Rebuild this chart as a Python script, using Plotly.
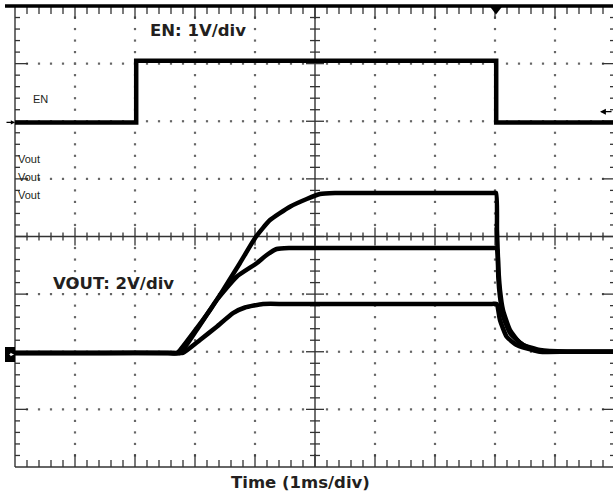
import plotly.graph_objects as go

# ---------------- data (time in ms = divisions, amplitude in divisions) -------------
en_t = [0, 2.02, 2.02, 8.02, 8.02, 9.97]
en_v = [1.98, 1.98, 3.05, 3.05, 1.98, 1.98]

vout_a_t = [0, 1.5, 2.55, 2.695, 2.967, 3.25, 3.467, 3.75, 4.017, 4.25, 4.583, 4.862, 5.083, 5.333,
            6.5, 7.95, 8.017, 8.033, 8.055, 8.083, 8.133, 8.25, 8.417, 8.633, 8.75, 9.2, 9.97]
vout_a_v = [-2.02, -2.02, -2.02, -2.027, -1.677, -1.278, -0.93, -0.46, -0.003, 0.286, 0.517, 0.651, 0.738, 0.755,
            0.755, 0.755, 0.755, 0.113, -0.524, -0.928, -1.275, -1.623, -1.848, -1.97, -2.0, -2.0, -2.0]

vout_b_t = [0, 1.5, 2.6, 2.75, 3.028, 3.362, 3.695, 4.028, 4.195, 4.362, 4.583,
            6.0, 7.95, 8.028, 8.045, 8.055, 8.083, 8.138, 8.25, 8.467, 8.75, 9.2, 9.97]
vout_b_v = [-2.02, -2.02, -2.02, -2.02, -1.622, -1.102, -0.698, -0.465, -0.321, -0.217, -0.2,
            -0.2, -0.2, -0.2, -0.32, -0.7, -1.045, -1.39, -1.675, -1.88, -1.97, -2.0, -2.0]

vout_c_t = [0, 1.5, 2.65, 2.8, 3.083, 3.362, 3.633, 3.833, 4.133, 4.5,
            6.0, 7.95, 8.028, 8.083, 8.195, 8.362, 8.633, 8.83, 9.2, 9.97]
vout_c_v = [-2.02, -2.02, -2.02, -2.02, -1.796, -1.565, -1.328, -1.232, -1.171, -1.17,
            -1.17, -1.17, -1.17, -1.449, -1.739, -1.883, -1.97, -2.0, -2.0, -2.0]

label_en = "EN: 1V/div"
label_vout = "VOUT: 2V/div"
label_time = "Time (1ms/div)"

# ---------------- geometry helpers --------------------------------------------------
DX = 1 / 60.0      # divisions per pixel (x)
DY = 1 / 57.625    # divisions per pixel (y)
X0, X1 = -0.25, -0.25 + 613 * DX
Y1 = 4 + 6 * DY
Y0 = Y1 - 470 * DY

fig = go.Figure()

# dotted graticule
dx, dy = [], []
for i in range(1, 10):
    if i == 5:
        continue
    for j in range(1, 40):
        v = -4 + j * 0.2
        if abs(v) < 1e-9:
            continue
        dx.append(i); dy.append(v)
for j in range(-3, 4):
    if j == 0:
        continue
    for k in range(1, 50):
        t = k * 0.2
        if abs(t - 5) < 1e-9:
            continue
        dx.append(t); dy.append(j)
fig.add_trace(go.Scatter(x=dx, y=dy, mode="markers", hoverinfo="skip",
                         marker=dict(symbol="square", size=2.2, color="#666666", line=dict(width=0))))

# tick marks
tx, ty = [], []
def seg(xa, ya, xb, yb):
    tx.extend([xa, xb, None]); ty.extend([ya, yb, None])

for k in range(1, 50):
    t = k * 0.2
    major = k % 5 == 0
    seg(t, 4, t, 4 - (13 if major else 8) * DY)          # top
    seg(t, -4, t, -4 + (13 if major else 7) * DY)        # bottom
    h = (9 if major else 4) * DY
    seg(t, -h, t, h)                                      # centre horizontal
for j in range(1, 40):
    v = -4 + j * 0.2
    major = j % 5 == 0
    seg(0, v, (13 if major else 5) * DX, v)               # left
    seg(10, v, 10 - (13 if major else 5) * DX, v)         # right
    h = (9 if major else 5) * DX
    seg(5 - h, v, 5 + h, v)                               # centre vertical
fig.add_trace(go.Scatter(x=tx, y=ty, mode="lines", hoverinfo="skip",
                         line=dict(color="#333333", width=1.3)))

# border / crosshair lines
bx = [0, 0, None, 0, X1, None, 5, 5, None, 0, X1]
by = [4, -4, None, -4, -4, None, 4, -4, None, 0, 0]
fig.add_trace(go.Scatter(x=bx, y=by, mode="lines", hoverinfo="skip",
                         line=dict(color="#333333", width=1.4)))
fig.add_trace(go.Scatter(x=[-10 * DX, X1], y=[4, 4], mode="lines", hoverinfo="skip",
                         line=dict(color="#000000", width=3.5)))

# signal traces
fig.add_trace(go.Scatter(x=en_t, y=en_v, mode="lines", hoverinfo="skip",
                         line=dict(color="#000000", width=4.5)))
for xs, ys in [(vout_a_t, vout_a_v), (vout_b_t, vout_b_v), (vout_c_t, vout_c_v)]:
    fig.add_trace(go.Scatter(x=xs, y=ys, mode="lines", hoverinfo="skip",
                             line=dict(color="#000000", width=4.5, shape="spline", smoothing=0.5)))

# trigger marker at top
fig.add_trace(go.Scatter(x=[8.017], y=[Y1 - 9 * DY], mode="markers", cliponaxis=False,
                         hoverinfo="skip",
                         marker=dict(symbol="triangle-down", size=11, color="#000000")))

# ground marker box for Vout
fig.add_shape(type="rect", xref="x", yref="y", x0=-10 * DX, x1=0,
              y0=(236.5 - 362) * DY, y1=(236.5 - 347) * DY,
              fillcolor="#000000", line=dict(width=0))

bold = dict(family="DejaVu Sans", size=16.5, color="#231f20", weight="bold")
small = dict(family="Liberation Sans", size=11, color="#231f20")

ann = [
    dict(x=(149 - 15) * DX, y=(236.5 - 30) * DY, text=label_en, font=bold, xanchor="left"),
    dict(x=(52 - 15) * DX, y=(236.5 - 283) * DY, text=label_vout, font=bold, xanchor="left"),
    dict(x=(32 - 15) * DX, y=(236.5 - 99) * DY, text="EN", font=small, xanchor="left"),
    dict(x=(17 - 15) * DX, y=(236.5 - 159) * DY, text="Vout", font=small, xanchor="left"),
    dict(x=(17 - 15) * DX, y=(236.5 - 176.5) * DY, text="Vout", font=small, xanchor="left"),
    dict(x=(17 - 15) * DX, y=(236.5 - 194.5) * DY, text="Vout", font=small, xanchor="left"),
]
for a in ann:
    fig.add_annotation(xref="x", yref="y", yanchor="middle", showarrow=False, borderpad=0, **a)

fig.add_annotation(xref="paper", yref="paper", x=300 / 613, y=(470 - 482) / 470,
                   text=label_time, font=bold, showarrow=False, xanchor="center", yanchor="middle")

# arrows
fig.add_annotation(xref="x", yref="y", x=0, y=1.98, ax=-10, ay=0, text="", showarrow=True,
                   arrowhead=2, arrowsize=0.7, arrowwidth=1.2, arrowcolor="#000000")
fig.add_annotation(xref="x", yref="y", x=(600 - 15) * DX, y=(236.5 - 111.7) * DY, ax=13, ay=0,
                   text="", showarrow=True, arrowhead=2, arrowsize=0.9, arrowwidth=1.3,
                   arrowcolor="#000000")
fig.add_annotation(xref="x", yref="y", x=-1 * DX, y=(236.5 - 354.5) * DY, ax=-6, ay=0, text="",
                   showarrow=True, arrowhead=2, arrowsize=0.6, arrowwidth=1.2,
                   arrowcolor="#ffffff")

fig.update_layout(
    width=613, height=495,
    margin=dict(l=0, r=0, t=0, b=25),
    paper_bgcolor="white", plot_bgcolor="white",
    showlegend=False,
    xaxis=dict(range=[X0, X1], visible=False, fixedrange=True),
    yaxis=dict(range=[Y0, Y1], visible=False, fixedrange=True),
)

fig.write_html("out.html", config={"displayModeBar": False},
               post_script="document.body.style.margin='0px';document.body.style.overflow='hidden';")
